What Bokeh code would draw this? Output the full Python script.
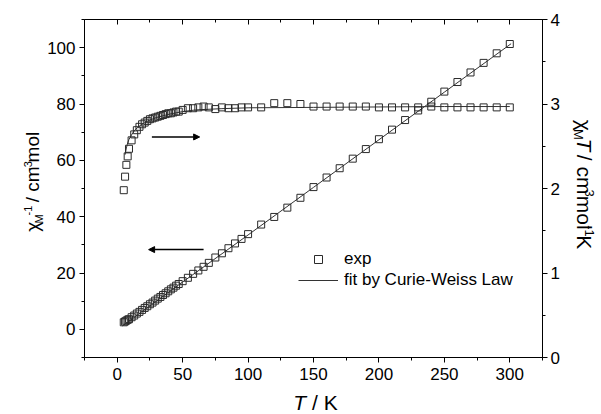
import math
from bokeh.plotting import figure
from bokeh.layouts import row, column
from bokeh.models import (Range1d, LinearAxis, SingleIntervalTicker, Label,
                          Arrow, NormalHead, Legend, LegendItem)
from bokeh.embed import file_html
from bokeh.resources import INLINE

# ---------------- data ----------------
T = [5, 6, 7, 8, 9,
     11, 13, 15, 17, 19, 21, 23, 25, 27, 29, 31, 33, 35, 37, 39, 41, 43, 45, 47,
     50, 54, 58, 62, 66, 70,
     75, 80, 85, 90, 95, 100,
     110, 120, 130, 140, 150, 160, 170, 180, 190, 200, 210, 220, 230, 240,
     250, 260, 270, 280, 290, 300]

chiT = [1.98, 2.14, 2.28, 2.38, 2.47,
        2.57, 2.64, 2.69, 2.73, 2.76, 2.78, 2.80, 2.82, 2.83, 2.84, 2.85, 2.86,
        2.87, 2.88, 2.89, 2.89, 2.90, 2.91, 2.91,
        2.93, 2.95, 2.95, 2.96, 2.97, 2.96,
        2.94, 2.96, 2.95, 2.95, 2.96, 2.96,
        2.96, 3.01, 3.01, 3.00, 2.97, 2.97, 2.97, 2.97, 2.97, 2.96, 2.96, 2.96,
        2.96, 2.97, 2.96, 2.96, 2.96, 2.96, 2.96, 2.96]

inv_chi = [2.5, 2.8, 3.1, 3.4, 3.6,
           4.3, 4.9, 5.6, 6.2, 6.9, 7.6, 8.2, 8.9, 9.5, 10.2, 10.9, 11.5, 12.2,
           12.8, 13.5, 14.2, 14.8, 15.5, 16.1,
           17.1, 18.3, 19.7, 20.9, 22.2, 23.6,
           25.5, 27.0, 28.8, 30.5, 32.1, 33.8,
           37.2, 39.9, 43.2, 46.7, 50.5, 53.9, 57.2, 60.6, 64.0, 67.5, 70.9, 74.3,
           77.7, 80.8, 84.4, 87.8, 91.2, 94.6, 98.0, 101.3]

fit_T_inv = [4, 50, 100, 150, 200, 250, 301]
fit_inv = [1.2, 16.8, 33.5, 50.4, 67.3, 84.2, 101.4]

fit_T_chiT = [6, 7, 8, 9, 10, 12, 14, 17, 20, 25, 30, 40, 50, 60, 80, 100,
              150, 200, 250, 300]
fit_chiT = [2.40, 2.48, 2.54, 2.58, 2.61, 2.66, 2.70, 2.74, 2.77, 2.81, 2.84,
            2.88, 2.91, 2.93, 2.945, 2.955, 2.96, 2.965, 2.97, 2.97]

x_ticks_interval = 50
left_ticks_interval = 20
right_ticks_interval = 1

legend_labels = ["exp", "fit by Curie-Weiss Law"]

# ---------------- layout geometry (px) ----------------
FONT = "Liberation Sans"
TOTAL_W, TOTAL_H = 601, 414
LW, RW = 44, 39                 # left / right title strips
MW = TOTAL_W - LW - RW          # main figure width
MH = 387                        # main figure height
BH = TOTAL_H - MH               # bottom title strip height
FL, FR, FT, FB = 38, 19, 19, 30 # main frame borders

p = figure(width=MW, height=MH, output_backend="svg", toolbar_location=None,
           x_range=Range1d(-25, 325), y_range=Range1d(-10, 110),
           min_border_left=FL, min_border_right=FR,
           min_border_top=FT, min_border_bottom=FB,
           x_axis_location=None, y_axis_location=None)
p.extra_y_ranges = {"r": Range1d(0, 4)}
p.grid.visible = False
p.outline_line_color = None
p.background_fill_color = "white"
p.border_fill_color = "white"

def style_axis(ax, inward=False):
    ax.axis_line_color = "black"
    ax.axis_line_width = 1
    ax.major_tick_line_color = "black"
    ax.minor_tick_line_color = "black"
    ax.major_label_text_font = FONT
    ax.major_label_text_font_size = "17px"
    ax.major_label_text_color = "black"
    if inward:
        ax.major_tick_in, ax.major_tick_out = 5, 0
        ax.minor_tick_in, ax.minor_tick_out = 3, 0
    else:
        ax.major_tick_in, ax.major_tick_out = 0, 5
        ax.minor_tick_in, ax.minor_tick_out = 0, 3

xb = LinearAxis(ticker=SingleIntervalTicker(interval=x_ticks_interval, num_minor_ticks=2))
style_axis(xb)
xb.major_label_standoff = 5
p.add_layout(xb, "below")

xt = LinearAxis(ticker=SingleIntervalTicker(interval=x_ticks_interval, num_minor_ticks=2))
style_axis(xt, inward=True)
xt.major_label_overrides = {v: "" for v in range(-50, 400, x_ticks_interval)}
xt.major_label_text_font_size = "1px"
xt.major_label_standoff = 0
p.add_layout(xt, "above")

yl = LinearAxis(ticker=SingleIntervalTicker(interval=left_ticks_interval, num_minor_ticks=2))
style_axis(yl)
yl.major_label_standoff = 4
p.add_layout(yl, "left")

yr = LinearAxis(y_range_name="r",
                ticker=SingleIntervalTicker(interval=right_ticks_interval, num_minor_ticks=2))
style_axis(yr)
yr.major_label_standoff = 3
p.add_layout(yr, "right")

# ---------------- data renderers ----------------
MK = "#2a2a2a"
LN = "#333333"
fit1 = p.line(fit_T_inv, fit_inv, line_color=LN, line_width=1)
fit2 = p.line(fit_T_chiT, fit_chiT, line_color=LN, line_width=1, y_range_name="r")
sq1 = p.scatter(T, inv_chi, marker="square", size=7, fill_color=None,
                line_color=MK, line_width=1)
sq2 = p.scatter(T, chiT, marker="square", size=7, fill_color=None,
                line_color=MK, line_width=1, y_range_name="r")

# arrows
p.add_layout(Arrow(x_start=26.5, y_start=2.61, x_end=63, y_end=2.61,
                   y_range_name="r", line_width=1.5, line_color="black",
                   end=NormalHead(size=6, fill_color="black", line_color="black")))
p.add_layout(Arrow(x_start=66, y_start=28.3, x_end=24, y_end=28.3,
                   line_width=1.5, line_color="black",
                   end=NormalHead(size=6, fill_color="black", line_color="black")))

# legend
leg = Legend(items=[LegendItem(label=legend_labels[0], renderers=[sq1]),
                    LegendItem(label=legend_labels[1], renderers=[fit1])],
             location=(214, 67.5), glyph_width=40, glyph_height=20,
             label_height=20, spacing=1, padding=0, margin=0, label_standoff=6,
             border_line_color=None, background_fill_alpha=0,
             label_text_font=FONT, label_text_font_size="17px",
             label_text_color="black")
p.add_layout(leg, "center")

# ---------------- title strips ----------------
def strip(w, h):
    f = figure(width=w, height=h, output_backend="svg", toolbar_location=None,
               title=None, x_range=Range1d(0, w), y_range=Range1d(0, h),
               min_border=0, x_axis_location=None, y_axis_location=None)
    f.grid.visible = False
    f.outline_line_color = None
    f.background_fill_color = "white"
    f.border_fill_color = "white"
    return f

fl = strip(LW, MH)
fr = strip(RW, MH)
fb = strip(TOTAL_W, BH)

CW = {'0': .556, '1': .556, '3': .556, '-': .333, ' ': .278, '/': .278,
      'c': .5, 'm': .833, 'o': .556, 'l': .222, 'M': .833, 'T': .611,
      'K': .667, 'χ': .5}
DESC = 0.212   # Liberation Sans descent (em)

def tw(s, size):
    return sum(CW.get(ch, .556) for ch in s) * size

def put(fig, text, x, y, size, angle, italic=False):
    # anchor given at the alphabetic baseline; Bokeh aligns the box bottom,
    # so move the anchor "down" (in text frame) by the descent
    d = DESC * size
    x += d * math.sin(angle)
    y -= d * math.cos(angle)
    fig.add_layout(Label(x=x, y=y, text=text, angle=angle, text_align="left",
                         text_baseline="bottom", text_font=FONT,
                         text_font_size=f"{size}px",
                         text_font_style="italic" if italic else "normal",
                         text_color="black"))

# picture coordinates -> strip coordinates (y up)
def to_left(px, py):
    return px, MH - py
def to_right(px, py):
    return px - (LW + MW), MH - py
def to_bottom(px, py):
    return px, TOTAL_H - py

def rich(fig, conv, segments, base_x, center_y, direction):
    L = sum(tw(t, s) for t, s, _, _ in segments)
    acc = 0.0
    for text, size, shift, italic in segments:
        lead = len(text) - len(text.lstrip(" "))
        acc += tw(" " * lead, size)
        body = text.lstrip(" ")
        if direction == 1:      # bottom -> top
            x, y = conv(base_x - shift, center_y + L / 2 - acc)
            put(fig, body, x, y, size, math.pi / 2, italic)
        else:                   # top -> bottom
            x, y = conv(base_x + shift, center_y - L / 2 + acc)
            put(fig, body, x, y, size, -math.pi / 2, italic)
        acc += tw(body, size)

frame_mid_y = FT + (MH - FT - FB) / 2
MAIN_L, SMALL_L = 19, 11
rich(fl, to_left,
     [("χ", MAIN_L, 0, False), ("M", SMALL_L, -3.8, False),
      ("-1", SMALL_L, 9.5, False), (" / cm", MAIN_L, 0, False),
      ("-3", SMALL_L, 9.5, False), ("mol", MAIN_L, 0, False)],
     base_x=38.5, center_y=frame_mid_y, direction=1)

MAIN_R, SMALL_R = 21, 13
rich(fr, to_right,
     [("χ", MAIN_R, 0, False), ("M", SMALL_R, -4.2, False),
      ("T", MAIN_R, 0, True), (" / cm", MAIN_R, 0, False),
      ("3", SMALL_R, 10.5, False), ("mol", MAIN_R, 0, False),
      ("-1", SMALL_R, 10.5, False), ("K", MAIN_R, 0, False)],
     base_x=577, center_y=frame_mid_y, direction=-1)

tsz = 21
tot = tw("T / K", tsz)
x0 = 315 - tot / 2
bx, by = to_bottom(x0, 409)
put(fb, "T", bx, by, tsz, 0, italic=True)
bx2, _ = to_bottom(x0 + tw("T ", tsz), 409)
put(fb, "/ K", bx2, by, tsz, 0)

layout = column(row(fl, p, fr, spacing=0), fb, spacing=0)
open("out.html", "w").write(file_html(layout, INLINE))
